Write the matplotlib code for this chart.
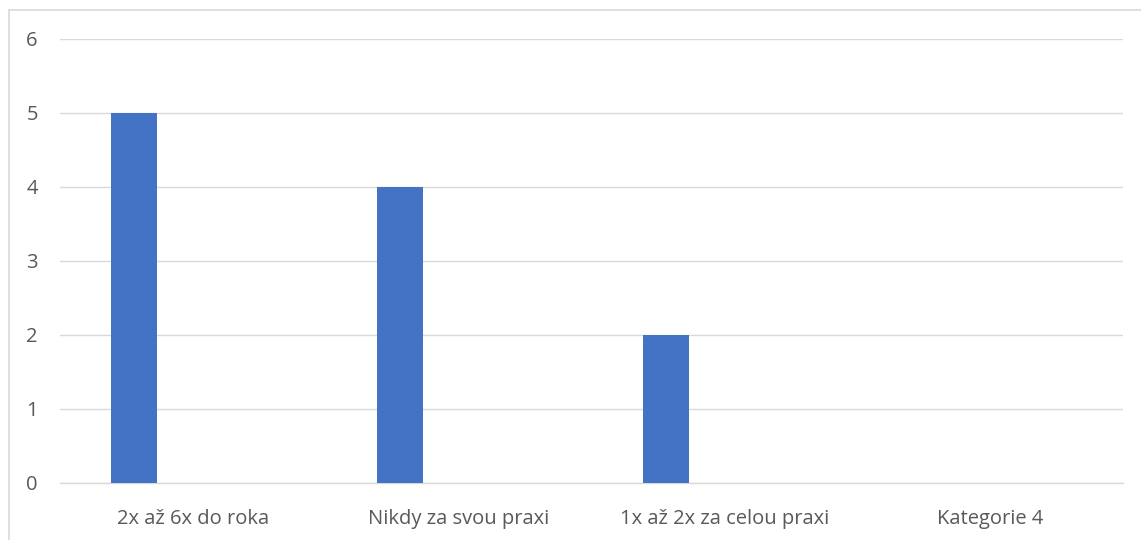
import numpy as np
import matplotlib.pyplot as plt
from matplotlib.lines import Line2D

# data
kategorie = ['2x až 6x do roka', 'Nikdy za svou praxi', '1x až 2x za celou praxi', 'Kategorie 4']
hodnoty = [5, 4, 2, 0]

plt.rcParams['font.family'] = ['Open Sans', 'DejaVu Sans']

fig = plt.figure(figsize=(11.41, 5.40), dpi=100)
ax = fig.add_axes([60 / 1141, 57 / 540, 1063 / 1141, (483 - 38.7) / 540])

x = np.arange(len(kategorie))
ax.bar(x - 0.221, hodnoty, width=0.174, color='#4472C4', zorder=3)

ax.set_xlim(-0.5, len(kategorie) - 0.5)
ax.set_ylim(0, 6)
ax.set_yticks(range(0, 7))
ax.set_xticks(x)
ax.set_xticklabels(kategorie)

ax.grid(axis='y', color='#d9d9d9', linewidth=1.0, zorder=0)
for s in ['top', 'right', 'left']:
    ax.spines[s].set_visible(False)
ax.spines['bottom'].set_color('#d9d9d9')
ax.spines['bottom'].set_linewidth(1.0)
ax.tick_params(axis='both', length=0, labelsize=14.5, labelcolor='#595959')
ax.tick_params(axis='y', pad=16)
ax.tick_params(axis='x', pad=18.5)

# ramecek grafu
fig.add_artist(Line2D([8.5 / 1141, 8.5 / 1141], [0, 1 - 9.5 / 540], transform=fig.transFigure,
                      color='#d9d9d9', linewidth=1.2))
fig.add_artist(Line2D([8.5 / 1141, 1], [1 - 9.5 / 540, 1 - 9.5 / 540], transform=fig.transFigure,
                      color='#d9d9d9', linewidth=1.2))

fig.savefig('out.png', dpi=100)
